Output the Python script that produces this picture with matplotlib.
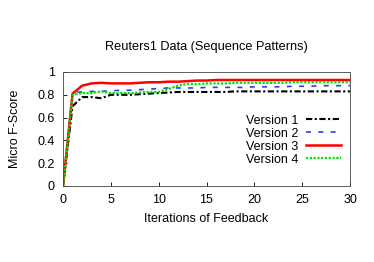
import matplotlib
matplotlib.use("Agg")
import matplotlib.pyplot as plt

plt.rcParams['font.family'] = ['Liberation Sans', 'DejaVu Sans']

iterations = list(range(31))
version1 = [0, 0.70, 0.78, 0.78, 0.77, 0.80, 0.80, 0.80, 0.805, 0.81, 0.815,
            0.82, 0.825, 0.825, 0.825, 0.825, 0.825, 0.825, 0.83, 0.83, 0.83,
            0.83, 0.83, 0.83, 0.83, 0.83, 0.83, 0.83, 0.83, 0.83, 0.83]
version2 = [0, 0.82, 0.825, 0.83, 0.83, 0.835, 0.84, 0.84, 0.845, 0.85, 0.855,
            0.86, 0.86, 0.86, 0.86, 0.865, 0.865, 0.865, 0.865, 0.865, 0.87,
            0.87, 0.87, 0.87, 0.875, 0.875, 0.875, 0.88, 0.88, 0.88, 0.88]
version3 = [0, 0.81, 0.88, 0.90, 0.905, 0.90, 0.90, 0.90, 0.905, 0.91, 0.91,
            0.915, 0.915, 0.92, 0.925, 0.925, 0.93, 0.93, 0.93, 0.93, 0.93,
            0.93, 0.93, 0.93, 0.93, 0.93, 0.93, 0.93, 0.93, 0.93, 0.93]
version4 = [0, 0.80, 0.815, 0.815, 0.83, 0.815, 0.815, 0.815, 0.82, 0.825, 0.825,
            0.85, 0.88, 0.895, 0.895, 0.90, 0.90, 0.90, 0.905, 0.905, 0.905,
            0.905, 0.905, 0.905, 0.91, 0.91, 0.91, 0.91, 0.91, 0.91, 0.91]
labels = ['Version 1', 'Version 2', 'Version 3', 'Version 4']


def main():
    fig = plt.figure(figsize=(3.74, 2.62), dpi=100)
    ax = fig.add_axes([63 / 374, 1 - 186 / 262, 287 / 374, 114 / 262])

    ax.plot(iterations, version1, color='black',
            linestyle=(0, (3, 1.2, 1, 1.2)), lw=1.5, label=labels[0])
    ax.plot(iterations, version2, color='#2040ff', linestyle=(0, (3, 4.4)),
            lw=1.2, label=labels[1])
    ax.plot(iterations, version3, color='red', linestyle='-', lw=1.8,
            label=labels[2])
    ax.plot(iterations, version4, color='#00e000', linestyle=(0, (1, 0.7)),
            lw=1.6, label=labels[3])

    ax.set_xlim(0, 30)
    ax.set_ylim(0, 1)
    ax.set_xticks(range(0, 31, 5))
    ax.set_yticks([0, 0.2, 0.4, 0.6, 0.8, 1])
    ax.set_yticklabels(['0', '0.2', '0.4', '0.6', '0.8', '1'])
    ax.tick_params(direction='in', length=3, labelsize=9, width=0.6)
    ax.tick_params(axis='x', pad=5.5)
    ax.tick_params(axis='y', pad=6)
    for s in ax.spines.values():
        s.set_linewidth(0.6)
        s.set_color('#444444')

    ax.set_title('Reuters1 Data (Sequence Patterns)', fontsize=9.2, pad=16)
    ax.set_xlabel('Iterations of Feedback', fontsize=9, labelpad=5.5)
    ax.set_ylabel('Micro F-Score', fontsize=9, labelpad=11.5)

    ax.legend(loc='lower right', bbox_to_anchor=(1.0, 0.1), frameon=False,
              fontsize=9, markerfirst=False, handlelength=2.8,
              labelspacing=0.08, borderpad=0.2, handletextpad=0.65)

    fig.savefig('out.png', dpi=100)


if __name__ == "__main__":
    main()
